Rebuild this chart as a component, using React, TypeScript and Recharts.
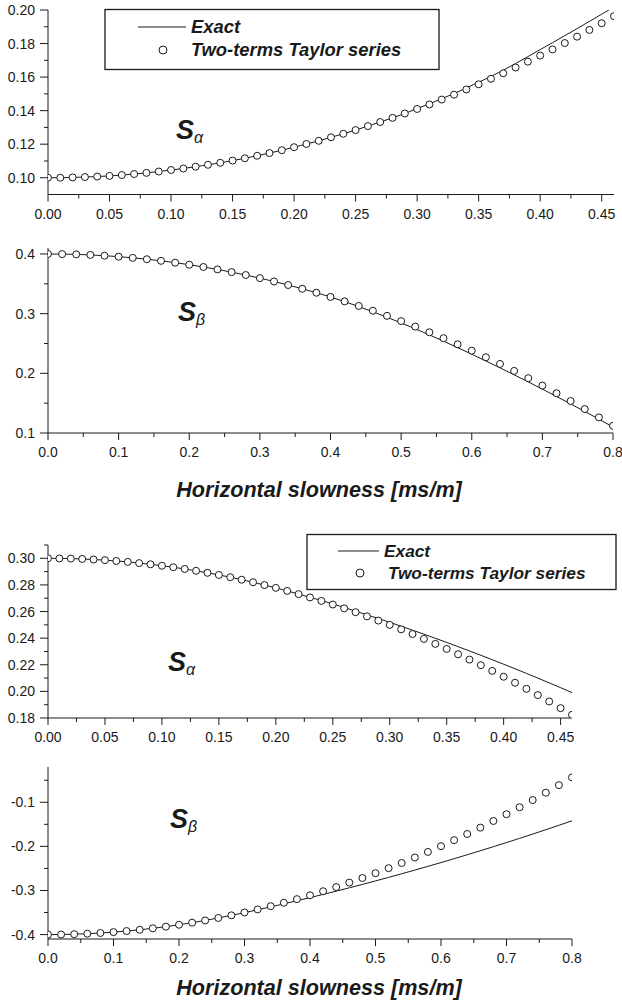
import React from 'react';
import { LineChart, Line, XAxis, YAxis } from 'recharts';

const FONT = '"Liberation Sans", Arial, Helvetica, sans-serif';
const INK = '#1a1a1a';

// horizontal slowness samples [ms/m]
const slownessA = [0, 0.01, 0.02, 0.03, 0.04, 0.05, 0.06, 0.07, 0.08, 0.09, 0.1, 0.11, 0.12, 0.13, 0.14, 0.15, 0.16, 0.17, 0.18, 0.19, 0.2, 0.21, 0.22, 0.23, 0.24, 0.25, 0.26, 0.27, 0.28, 0.29, 0.3, 0.31, 0.32, 0.33, 0.34, 0.35, 0.36, 0.37, 0.38, 0.39, 0.4, 0.41, 0.42, 0.43, 0.44, 0.45, 0.46];
const slownessB = [0, 0.02, 0.04, 0.06, 0.08, 0.1, 0.12, 0.14, 0.16, 0.18, 0.2, 0.22, 0.24, 0.26, 0.28, 0.3, 0.32, 0.34, 0.36, 0.38, 0.4, 0.42, 0.44, 0.46, 0.48, 0.5, 0.52, 0.54, 0.56, 0.58, 0.6, 0.62, 0.64, 0.66, 0.68, 0.7, 0.72, 0.74, 0.76, 0.78, 0.8];

// upper figure, S alpha
const exact1 = [0.1, 0.1, 0.1002, 0.1004, 0.1007, 0.1011, 0.1016, 0.1022, 0.1029, 0.1037, 0.1046, 0.1055, 0.1066, 0.1077, 0.1089, 0.1102, 0.1116, 0.1131, 0.1147, 0.1164, 0.1182, 0.1201, 0.122, 0.1241, 0.1262, 0.1284, 0.1308, 0.1332, 0.1357, 0.1383, 0.1412, 0.1441, 0.1471, 0.1502, 0.1535, 0.1569, 0.1604, 0.1641, 0.1681, 0.1722, 0.1764, 0.1805, 0.1847, 0.1889, 0.1932, 0.1975, 0.2018];
const taylor1 = [0.1, 0.1, 0.1002, 0.1004, 0.1007, 0.1011, 0.1016, 0.1022, 0.1029, 0.1037, 0.1046, 0.1055, 0.1066, 0.1077, 0.1089, 0.1102, 0.1116, 0.1131, 0.1147, 0.1164, 0.1182, 0.1201, 0.122, 0.1241, 0.1262, 0.1284, 0.1308, 0.1332, 0.1357, 0.1383, 0.141, 0.1437, 0.1466, 0.1495, 0.1526, 0.1557, 0.159, 0.1623, 0.1657, 0.1692, 0.1728, 0.1765, 0.1803, 0.1841, 0.1881, 0.1921, 0.1963];

// upper figure, S beta
const exact2 = [0.4, 0.3998, 0.3993, 0.3984, 0.3971, 0.3955, 0.3935, 0.3912, 0.3885, 0.3854, 0.382, 0.3782, 0.3741, 0.3696, 0.3647, 0.3595, 0.3539, 0.348, 0.3417, 0.335, 0.328, 0.3201, 0.3119, 0.3031, 0.2939, 0.2845, 0.2746, 0.2644, 0.2539, 0.2431, 0.232, 0.2207, 0.2092, 0.1975, 0.1856, 0.1735, 0.1612, 0.1488, 0.1361, 0.1232, 0.11];
const taylor2 = [0.4, 0.3998, 0.3993, 0.3984, 0.3971, 0.3955, 0.3935, 0.3912, 0.3885, 0.3854, 0.382, 0.3782, 0.3741, 0.3696, 0.3647, 0.3595, 0.3539, 0.348, 0.3417, 0.335, 0.328, 0.3206, 0.3129, 0.3048, 0.2963, 0.2875, 0.2783, 0.2688, 0.2589, 0.2486, 0.238, 0.227, 0.2157, 0.204, 0.1919, 0.1795, 0.1667, 0.1536, 0.1401, 0.1262, 0.112];

// lower figure, S alpha
const exact3 = [0.3, 0.2999, 0.2998, 0.2995, 0.2991, 0.2986, 0.298, 0.2973, 0.2964, 0.2955, 0.2944, 0.2933, 0.292, 0.2906, 0.2891, 0.2875, 0.2858, 0.2839, 0.282, 0.2799, 0.2778, 0.2755, 0.2731, 0.2707, 0.2683, 0.2657, 0.263, 0.2603, 0.2575, 0.2547, 0.2519, 0.249, 0.246, 0.243, 0.2399, 0.2368, 0.2336, 0.2304, 0.2271, 0.2238, 0.2204, 0.217, 0.2135, 0.21, 0.2064, 0.2028, 0.1991];
const taylor3 = [0.3, 0.2999, 0.2998, 0.2995, 0.2991, 0.2986, 0.298, 0.2973, 0.2964, 0.2955, 0.2944, 0.2933, 0.292, 0.2906, 0.2891, 0.2875, 0.2858, 0.2839, 0.282, 0.2799, 0.2778, 0.2755, 0.2731, 0.2706, 0.268, 0.2653, 0.2624, 0.2595, 0.2564, 0.2532, 0.25, 0.2466, 0.2431, 0.2394, 0.2357, 0.2319, 0.2279, 0.2239, 0.2197, 0.2154, 0.211, 0.2065, 0.2019, 0.1972, 0.1924, 0.1874, 0.1824];

// lower figure, S beta
const exact4 = [-0.4, -0.3998, -0.3991, -0.398, -0.3964, -0.3944, -0.392, -0.3891, -0.3857, -0.382, -0.3777, -0.373, -0.3679, -0.3623, -0.3563, -0.3503, -0.3438, -0.3371, -0.3303, -0.3233, -0.3162, -0.3089, -0.3015, -0.2939, -0.2862, -0.2783, -0.2703, -0.2621, -0.2538, -0.2453, -0.2367, -0.2279, -0.219, -0.2099, -0.2007, -0.1913, -0.1818, -0.1721, -0.1622, -0.1522, -0.142];
const taylor4 = [-0.4, -0.3998, -0.3991, -0.398, -0.3964, -0.3944, -0.392, -0.3891, -0.3857, -0.382, -0.3777, -0.373, -0.3679, -0.3623, -0.3563, -0.3499, -0.343, -0.3356, -0.3278, -0.3196, -0.3109, -0.3017, -0.2922, -0.2821, -0.2717, -0.2608, -0.2494, -0.2376, -0.2253, -0.2126, -0.1995, -0.1859, -0.1719, -0.1574, -0.1424, -0.1271, -0.1112, -0.095, -0.0783, -0.0611, -0.0435];

// ticks
const xMajorA = [0, 0.05, 0.1, 0.15, 0.2, 0.25, 0.3, 0.35, 0.4, 0.45];
const xMinorA = [0.025, 0.075, 0.125, 0.175, 0.225, 0.275, 0.325, 0.375, 0.425];
const xMajorB = [0, 0.1, 0.2, 0.3, 0.4, 0.5, 0.6, 0.7, 0.8];
const xMinorB = [0.05, 0.15, 0.25, 0.35, 0.45, 0.55, 0.65, 0.75];
const yMajor1 = [0.1, 0.12, 0.14, 0.16, 0.18, 0.2];
const yMinor1 = [0.11, 0.13, 0.15, 0.17, 0.19];
const yMajor2 = [0.1, 0.2, 0.3, 0.4];
const yMinor2 = [0.15, 0.25, 0.35];
const yMajor3 = [0.18, 0.2, 0.22, 0.24, 0.26, 0.28, 0.3];
const yMinor3 = [0.19, 0.21, 0.23, 0.25, 0.27, 0.29, 0.31];
const yMajor4 = [-0.4, -0.3, -0.2, -0.1];
const yMinor4 = [-0.35, -0.25, -0.15, -0.05];

const near = (list: number[], v: number) => list.some((m) => Math.abs(m - v) < 1e-6);

type PanelProps = {
  plotTop: number;
  plotBottom: number;
  plotRight: number;
  x: number[];
  exact: number[];
  taylor: number[];
  xDomain: [number, number];
  yDomain: [number, number];
  xMajor: number[];
  xMinor: number[];
  yMajor: number[];
  yMinor: number[];
  xDigits: number;
  yDigits: number;
};

const Panel = (props: PanelProps) => {
  const { plotTop, plotBottom, plotRight, x, exact, taylor, xDomain, yDomain, xMajor, xMinor, yMajor, yMinor, xDigits, yDigits } = props;
  const data = x.map((p, i) => ({ p, exact: exact[i], taylor: taylor[i] }));
  const height = plotBottom - plotTop + 50;

  const XTick = (t: any) => {
    const major = near(xMajor, t.payload.value);
    return (
      <g>
        <line x1={t.x} x2={t.x} y1={t.y} y2={t.y + (major ? 7 : 4)} stroke={INK} />
        {major && (
          <text x={t.x} y={t.y + 24} textAnchor="middle" fontSize={14} fill={INK} fontFamily={FONT}>
            {Number(t.payload.value).toFixed(xDigits)}
          </text>
        )}
      </g>
    );
  };

  const YTick = (t: any) => {
    const major = near(yMajor, t.payload.value);
    return (
      <g>
        <line x1={t.x - (major ? 8 : 4)} x2={t.x} y1={t.y} y2={t.y} stroke={INK} />
        {major && (
          <text x={t.x - 13} y={t.y + 5} textAnchor="end" fontSize={14} fill={INK} fontFamily={FONT}>
            {Number(t.payload.value).toFixed(yDigits)}
          </text>
        )}
      </g>
    );
  };

  return (
    <div style={{ position: 'absolute', left: 0, top: plotTop - 10 }}>
      <LineChart width={622} height={height} data={data} margin={{ top: 10, right: 622 - plotRight, bottom: 10, left: 8 }}>
        <XAxis
          type="number"
          dataKey="p"
          domain={xDomain}
          ticks={[...xMajor, ...xMinor].sort((a, b) => a - b)}
          interval={0}
          allowDataOverflow
          tickSize={0}
          tickMargin={0}
          height={30}
          axisLine={{ stroke: INK }}
          tickLine={false}
          tick={XTick}
        />
        <YAxis
          type="number"
          domain={yDomain}
          ticks={[...yMajor, ...yMinor].sort((a, b) => a - b)}
          interval={0}
          allowDataOverflow
          tickSize={0}
          tickMargin={0}
          width={40}
          axisLine={{ stroke: INK }}
          tickLine={false}
          tick={YTick}
        />
        <Line type="monotone" dataKey="exact" stroke={INK} strokeWidth={1} dot={false} isAnimationActive={false} />
        <Line
          type="linear"
          dataKey="taylor"
          stroke="none"
          dot={{ r: 3.5, fill: '#fff', stroke: INK, strokeWidth: 1 }}
          isAnimationActive={false}
        />
      </LineChart>
    </div>
  );
};

const label = { fontFamily: FONT, fontWeight: 'bold' as const, fontStyle: 'italic' as const, fill: INK };

const Sym = ({ x, y, sub }: { x: number; y: number; sub: string }) => (
  <text x={x} y={y} fontSize={27} {...label}>
    S
    <tspan fontSize={16} fontWeight="normal" dy={4}>
      {sub}
    </tspan>
  </text>
);

const App = () => (
  <div style={{ position: 'fixed', left: 0, top: 0, width: 622, height: 1007, overflow: 'hidden', background: '#fff' }}>
    <Panel plotTop={9.5} plotBottom={194} plotRight={614} x={slownessA} exact={exact1} taylor={taylor1}
      xDomain={[0, 0.46]} yDomain={[0.09, 0.2]} xMajor={xMajorA} xMinor={xMinorA} yMajor={yMajor1} yMinor={yMinor1} xDigits={2} yDigits={2} />
    <Panel plotTop={248} plotBottom={433} plotRight={613} x={slownessB} exact={exact2} taylor={taylor2}
      xDomain={[0, 0.8]} yDomain={[0.1, 0.41]} xMajor={xMajorB} xMinor={xMinorB} yMajor={yMajor2} yMinor={yMinor2} xDigits={1} yDigits={1} />
    <Panel plotTop={545} plotBottom={718} plotRight={572} x={slownessA} exact={exact3} taylor={taylor3}
      xDomain={[0, 0.46]} yDomain={[0.18, 0.31]} xMajor={xMajorA} xMinor={xMinorA} yMajor={yMajor3} yMinor={yMinor3} xDigits={2} yDigits={2} />
    <Panel plotTop={767} plotBottom={939} plotRight={572} x={slownessB} exact={exact4} taylor={taylor4}
      xDomain={[0, 0.8]} yDomain={[-0.41, -0.02]} xMajor={xMajorB} xMinor={xMinorB} yMajor={yMajor4} yMinor={yMinor4} xDigits={1} yDigits={1} />

    <svg width={622} height={1007} style={{ position: 'absolute', left: 0, top: 0, pointerEvents: 'none' }}>
      <rect x={105} y={9.5} width={334} height={60} fill="#fff" stroke={INK} strokeWidth={1.3} />
      <line x1={138} x2={186} y1={27} y2={27} stroke={INK} />
      <text x={191} y={33} fontSize={18.4} {...label}>Exact</text>
      <circle cx={163} cy={50} r={4} fill="#fff" stroke={INK} />
      <text x={191} y={56} fontSize={18.4} {...label}>Two-terms Taylor series</text>

      <rect x={307} y={534.5} width={309} height={55} fill="#fff" stroke={INK} strokeWidth={1.3} />
      <line x1={338} x2={379} y1={551} y2={551} stroke={INK} />
      <text x={384} y={557} fontSize={17.3} {...label}>Exact</text>
      <circle cx={360} cy={573} r={4} fill="#fff" stroke={INK} />
      <text x={388} y={579} fontSize={17.3} {...label}>Two-terms Taylor series</text>

      <Sym x={176} y={139} sub="α" />
      <Sym x={178} y={321} sub="β" />
      <Sym x={168} y={671} sub="α" />
      <Sym x={170} y={828} sub="β" />

      <text x={319} y={497} textAnchor="middle" fontSize={21.6} {...label}>Horizontal slowness [ms/m]</text>
      <text x={319} y={995} textAnchor="middle" fontSize={21.6} {...label}>Horizontal slowness [ms/m]</text>
    </svg>
  </div>
);

export default App;
